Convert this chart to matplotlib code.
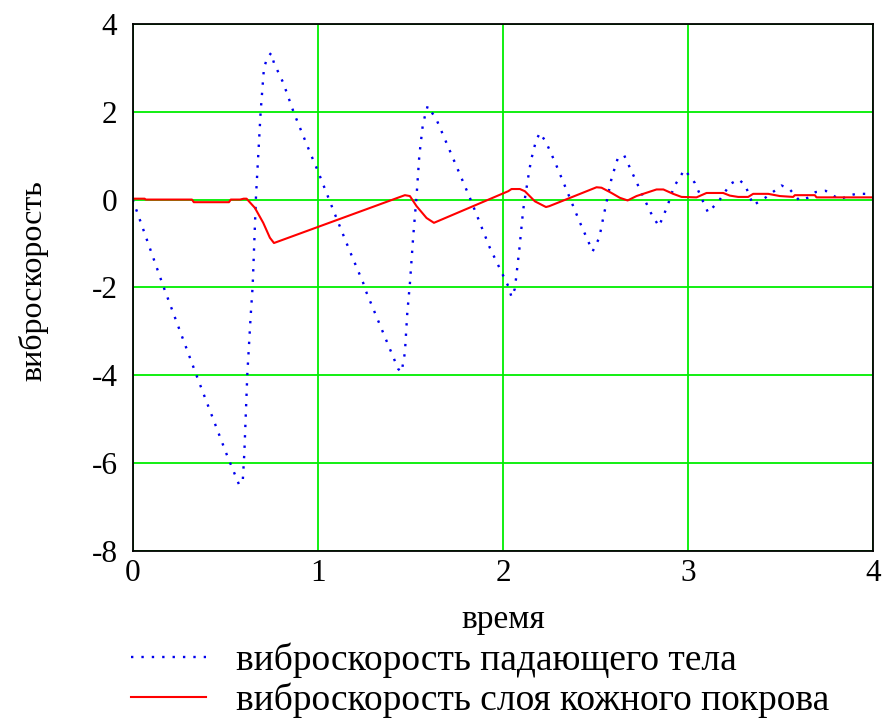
import matplotlib.pyplot as plt
from matplotlib.font_manager import FontProperties

# falling body vibration velocity
t_body = [0.0, 0.165, 0.345, 0.508, 0.574, 0.594, 0.603, 0.619, 0.637, 0.648, 0.666,
          0.691, 0.709, 0.727, 0.748, 0.763, 0.813, 0.871, 0.957, 1.002, 1.087,
          1.173, 1.245, 1.258, 1.368, 1.434, 1.452, 1.470, 1.483, 1.497, 1.515,
          1.533, 1.548, 1.566, 1.578, 1.593, 1.641, 1.710, 1.821, 1.929, 2.028,
          2.046, 2.064, 2.088, 2.109, 2.133, 2.151, 2.178, 2.199, 2.232, 2.280,
          2.347, 2.412, 2.460, 2.484, 2.520, 2.541, 2.563, 2.586, 2.619, 2.654,
          2.700, 2.748, 2.798, 2.842, 2.887, 2.923, 2.980, 3.036, 3.085, 3.108,
          3.171, 3.229, 3.272, 3.308, 3.351, 3.423, 3.504, 3.545, 3.600, 3.645,
          3.688, 3.742, 3.780, 3.820, 3.864, 3.909, 3.963, 4.0]
v_body = [0.0, -1.97, -4.01, -5.81, -6.49, -6.44, -5.77, -3.98, -2.66, -1.96, 0.08,
          2.00, 3.00, 3.23, 3.34, 3.11, 2.66, 1.97, 1.08, 0.63, -0.28,
          -1.18, -1.90, -2.07, -3.19, -3.86, -3.93, -3.49, -2.58, -1.92, -0.84,
          0.08, 1.00, 1.67, 1.90, 2.13, 1.82, 1.14, 0.04, -1.10, -1.97,
          -2.22, -2.03, -1.14, -0.23, 0.43, 0.89, 1.34, 1.52, 1.31, 0.86,
          0.18, -0.49, -0.95, -1.18, -0.87, -0.42, 0.02, 0.48, 0.93, 1.01,
          0.59, 0.15, -0.30, -0.61, -0.16, 0.29, 0.68, 0.38, -0.09, -0.30,
          0.00, 0.36, 0.46, 0.33, -0.13, 0.06, 0.32, 0.25, -0.02, 0.04,
          0.17, 0.20, 0.10, 0.00, 0.09, 0.13, 0.13, 0.12]

# skin layer vibration velocity
t_skin = [0.0, 0.065, 0.07, 0.32, 0.33, 0.52, 0.53, 0.58, 0.60, 0.615, 0.66, 0.705,
          0.741, 0.763, 1.470, 1.497, 1.533, 1.587, 1.627, 2.028, 2.046, 2.091,
          2.118, 2.172, 2.232, 2.25, 2.505, 2.532, 2.586, 2.631, 2.673, 2.721,
          2.829, 2.866, 2.919, 2.964, 3.045, 3.099, 3.189, 3.225, 3.27, 3.324,
          3.351, 3.432, 3.495, 3.567, 3.576, 3.684, 3.693, 3.99]
v_skin = [0.02, 0.02, 0.0, 0.0, -0.06, -0.06, 0.0, 0.0, 0.02, 0.02, -0.19, -0.53,
          -0.87, -0.99, 0.10, 0.08, -0.15, -0.42, -0.53, 0.19, 0.24, 0.24,
          0.19, -0.04, -0.17, -0.15, 0.28, 0.27, 0.15, 0.04, -0.02, 0.08,
          0.23, 0.23, 0.13, 0.06, 0.05, 0.15, 0.15, 0.09, 0.06, 0.06,
          0.13, 0.13, 0.08, 0.06, 0.10, 0.10, 0.05, 0.05]

x_ticks = [0, 1, 2, 3, 4]
y_ticks = [-8, -6, -4, -2, 0, 2, 4]
legend_labels = ['виброскорость падающего тела', 'виброскорость слоя кожного покрова']

FONT = 'Liberation Serif'
plt.rcParams['font.family'] = FONT
plt.rcParams['axes.unicode_minus'] = False

fig = plt.figure(figsize=(8.87, 7.2), dpi=100)
ax = fig.add_axes([0.1496, 0.2351, 0.835, 0.7316])

ax.grid(True, color='#00ee00', linewidth=1.3)
ax.set_axisbelow(True)

line_body, = ax.plot(t_body, v_body, color='#0000ee', linewidth=1.7,
                     linestyle=(0, (1, 3.4)), dash_capstyle='butt')
line_skin, = ax.plot(t_skin, v_skin, color='#ff0000', linewidth=1.5)

ax.set_xlim(0, 4)
ax.set_ylim(-8, 4)
ax.set_xticks(x_ticks)
ax.set_yticks(y_ticks)
ax.tick_params(axis='both', length=0, labelsize=22.5)
ax.tick_params(axis='y', pad=11)
ax.tick_params(axis='x', pad=6)
for lab in ax.get_xticklabels() + ax.get_yticklabels():
    lab.set_family(FONT)
for s in ax.spines.values():
    s.set_color('black')
    s.set_linewidth(1.3)

ax.set_xlabel('время', fontsize=24, labelpad=12, family=FONT)
ax.set_ylabel('виброскорость', fontsize=23, labelpad=31, family=FONT, y=0.512)

fig.legend([line_body, line_skin], legend_labels,
           loc='upper left', bbox_to_anchor=(0.148, 0.108), bbox_transform=fig.transFigure,
           frameon=False, prop=FontProperties(family=FONT, size=27),
           handlelength=2.0, handletextpad=0.8,
           labelspacing=0.12, borderpad=0, borderaxespad=0)

fig.savefig('out.png', dpi=100)
